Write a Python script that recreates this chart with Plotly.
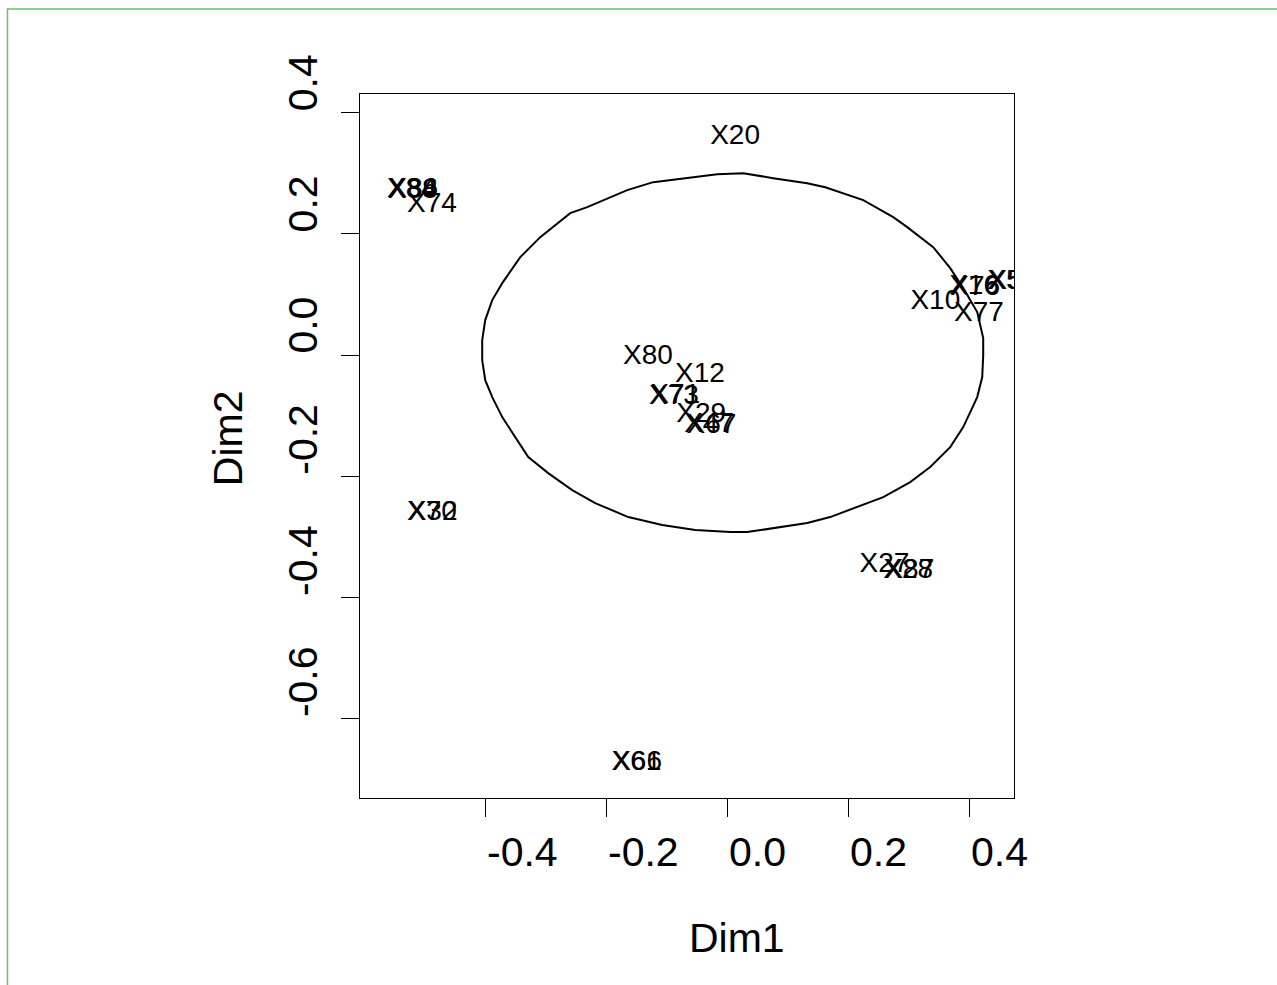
import plotly.graph_objects as go

# ---- data ----
label_text = ["X20", "X84", "X86", "X38", "X74",
              "X10", "X76", "X16", "X77", "X53", "X57",
              "X80", "X12", "X73", "X71", "X29", "X47", "X67",
              "X27", "X28", "X87",
              "X70", "X32",
              "X61", "X66"]
dim1 = [0.013, -0.521, -0.519, -0.520, -0.488,
        0.344, 0.410, 0.408, 0.416, 0.471, 0.473,
        -0.131, -0.045, -0.088, -0.086, -0.043, -0.030, -0.026,
        0.260, 0.299, 0.301,
        -0.488, -0.487,
        -0.150, -0.149]
dim2 = [0.360, 0.272, 0.273, 0.271, 0.248,
        0.087, 0.111, 0.112, 0.068, 0.120, 0.121,
        -0.003, -0.033, -0.069, -0.068, -0.099, -0.116, -0.117,
        -0.347, -0.356, -0.357,
        -0.261, -0.261,
        -0.673, -0.673]

# boundary outline (polygon vertices)
ring_x = [-0.0165, 0.0264, 0.0760, 0.1322, 0.1620, 0.1868, 0.2248, 0.2744, 0.2975,
          0.3405, 0.3686, 0.3901, 0.4132, 0.4231, 0.4231, 0.4215, 0.4132, 0.3901,
          0.3686, 0.3355, 0.3025, 0.2579, 0.2083, 0.1702, 0.1322, 0.0760, 0.0331,
          0.0050, -0.0529, -0.1074, -0.1636, -0.2182, -0.2562, -0.2959, -0.3289,
          -0.3504, -0.3719, -0.3884, -0.4000, -0.4050, -0.4050, -0.4000, -0.3884,
          -0.3719, -0.3421, -0.3091, -0.2595, -0.2314, -0.1653, -0.1223, -0.0661,
          -0.0165]
ring_y = [0.2987, 0.3003, 0.2921, 0.2838, 0.2772, 0.2690, 0.2558, 0.2277, 0.2112,
          0.1782, 0.1436, 0.1106, 0.0710, 0.0281, 0.0000, -0.0363, -0.0693, -0.1188,
          -0.1518, -0.1848, -0.2096, -0.2343, -0.2525, -0.2673, -0.2772, -0.2855, -0.2921,
          -0.2921, -0.2888, -0.2805, -0.2673, -0.2442, -0.2228, -0.1947, -0.1683,
          -0.1353, -0.1023, -0.0693, -0.0413, -0.0083, 0.0248, 0.0578, 0.0908,
          0.1188, 0.1617, 0.1947, 0.2343, 0.2442, 0.2723, 0.2855, 0.2921,
          0.2987]

x_ticks = [-0.4, -0.2, 0.0, 0.2, 0.4]
x_tick_text = ["-0.4", "-0.2", "0.0", "0.2", "0.4"]
y_ticks = [-0.6, -0.4, -0.2, 0.0, 0.2, 0.4]
y_tick_text = ["-0.6", "-0.4", "-0.2", "0.0", "0.2", "0.4"]

x_range = [-0.607, 0.474]
y_range = [-0.731, 0.431]

FONT = "Liberation Sans, Arial, sans-serif"

fig = go.Figure()
fig.add_trace(go.Scatter(x=ring_x, y=ring_y, mode="lines",
                         line=dict(color="black", width=2),
                         hoverinfo="skip", showlegend=False))
fig.add_trace(go.Scatter(x=dim1, y=dim2, mode="text", text=label_text,
                         textposition="middle center",
                         textfont=dict(family=FONT, size=28, color="black"),
                         cliponaxis=True, showlegend=False))

annotations = []
for v, t in zip(x_ticks, x_tick_text):
    annotations.append(dict(x=v, xref="x", y=-0.0767, yref="paper", text=t,
                            showarrow=False, xanchor="left", yanchor="middle",
                            font=dict(family=FONT, size=41, color="black")))
for v, t in zip(y_ticks, y_tick_text):
    annotations.append(dict(y=v, yref="y", x=-0.0872, xref="paper", text=t,
                            showarrow=False, xanchor="center", yanchor="bottom",
                            textangle=-90,
                            font=dict(family=FONT, size=41, color="black")))
annotations.append(dict(x=0.5, xref="paper", y=-0.199, yref="paper", text="Dim1",
                        showarrow=False, xanchor="left", yanchor="middle",
                        font=dict(family=FONT, size=41, color="black")))
annotations.append(dict(x=-0.202, xref="paper", y=0.511, yref="paper", text="Dim2",
                        showarrow=False, xanchor="center", yanchor="middle",
                        textangle=-90,
                        font=dict(family=FONT, size=41, color="black")))

fig.update_layout(
    width=1277, height=985, autosize=False,
    margin=dict(l=360, r=263, t=94, b=187, pad=0),
    paper_bgcolor="white", plot_bgcolor="white",
    showlegend=False,
    annotations=annotations,
    shapes=[dict(type="rect", xref="paper", yref="paper",
                 x0=-0.539, x1=1.45, y0=-0.30, y1=1.1207,
                 line=dict(color="#6cbf6c", width=1.5), layer="below")],
    xaxis=dict(range=x_range, tickvals=x_ticks, showticklabels=False,
               ticks="outside", ticklen=18, tickwidth=1.3, tickcolor="black",
               showline=True, mirror=True, linecolor="black", linewidth=1.3,
               showgrid=False, zeroline=False),
    yaxis=dict(range=y_range, tickvals=y_ticks, showticklabels=False,
               ticks="outside", ticklen=18, tickwidth=1.3, tickcolor="black",
               showline=True, mirror=True, linecolor="black", linewidth=1.3,
               showgrid=False, zeroline=False),
)

fig.write_html("out.html", config={"displayModeBar": False},
               post_script="document.body.style.margin='0';document.body.style.overflow='hidden';")
